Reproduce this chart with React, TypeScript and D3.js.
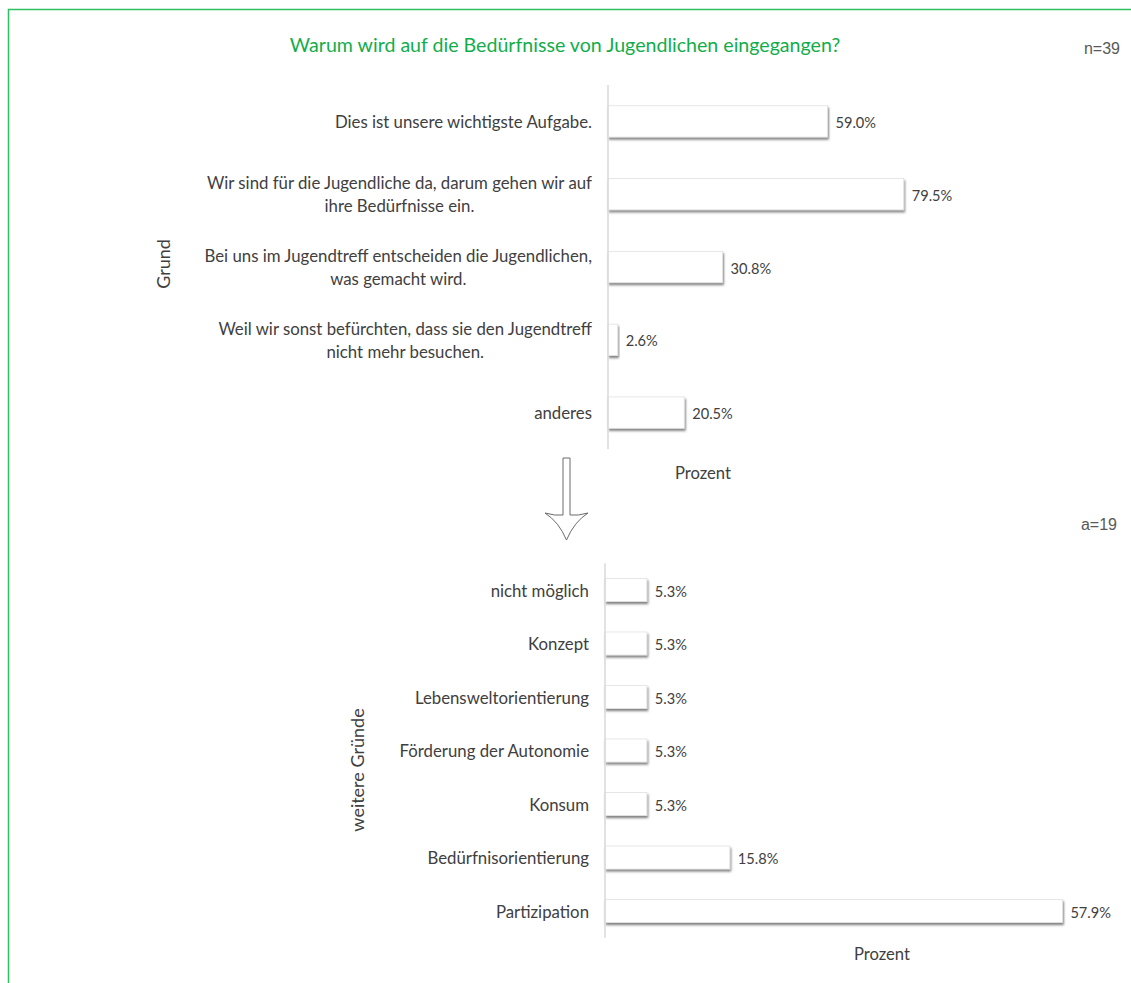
import React, { useEffect, useRef } from "react";
import * as d3 from "d3";

const TITLE = "Warum wird auf die Bedürfnisse von Jugendlichen eingegangen?";

const topCategories = [
  "Dies ist unsere wichtigste Aufgabe.",
  "Wir sind für die Jugendliche da, darum gehen wir auf\nihre Bedürfnisse ein.",
  "Bei uns im Jugendtreff entscheiden die Jugendlichen,\nwas gemacht wird.",
  "Weil wir sonst befürchten, dass sie den Jugendtreff\nnicht mehr besuchen.",
  "anderes",
];
const topValues = [59.0, 79.5, 30.8, 2.6, 20.5];

const bottomCategories = [
  "nicht möglich",
  "Konzept",
  "Lebensweltorientierung",
  "Förderung der Autonomie",
  "Konsum",
  "Bedürfnisorientierung",
  "Partizipation",
];
const bottomValues = [5.3, 5.3, 5.3, 5.3, 5.3, 15.8, 57.9];

const topNote = "n=39";
const bottomNote = "a=19";
const topAxisTitle = "Grund";
const bottomAxisTitle = "weitere Gründe";
const valueAxisTitle = "Prozent";

const W = 1131;
const H = 983;
const FONT = "Lato, 'Open Sans', sans-serif";
const TEXT = "#404040";

type Panel = {
  cats: string[];
  vals: number[];
  axisX: number;
  pxPer100: number;
  yTop: number;
  yBottom: number;
  padding: number;
  labelGap: number;
  groupTitle: string;
  groupTitleX: number;
  groupTitleY: number;
  prozentX: number;
  prozentY: number;
};

export default function App() {
  const ref = useRef<SVGSVGElement | null>(null);

  useEffect(() => {
    document.body.style.margin = "0";
    const svg = d3.select(ref.current);
    svg.selectAll("*").remove();

    const defs = svg.append("defs");
    const f = defs
      .append("filter")
      .attr("id", "barShadow")
      .attr("x", "-10%")
      .attr("y", "-40%")
      .attr("width", "130%")
      .attr("height", "200%");
    f.append("feDropShadow")
      .attr("dx", 1)
      .attr("dy", 2.2)
      .attr("stdDeviation", 1.1)
      .attr("flood-color", "#404040")
      .attr("flood-opacity", 0.65);

    svg.append("rect").attr("width", W).attr("height", H).attr("fill", "#fff");

    // frame
    svg
      .append("path")
      .attr("d", `M8.5,${H} L8.5,9.5 L${W},9.5`)
      .attr("fill", "none")
      .attr("stroke", "#2fc062")
      .attr("stroke-width", 1.5);

    svg
      .append("text")
      .attr("x", 565)
      .attr("y", 44)
      .attr("text-anchor", "middle")
      .attr("dominant-baseline", "central")
      .attr("font-family", FONT)
      .attr("font-size", 19.6)
      .attr("fill", "#12ad4b")
      .text(TITLE);

    svg
      .append("text")
      .attr("x", 1120)
      .attr("y", 48)
      .attr("text-anchor", "end")
      .attr("dominant-baseline", "central")
      .attr("font-family", "'Liberation Sans', Arial, sans-serif")
      .attr("font-size", 16)
      .attr("fill", "#595959")
      .text(topNote);

    svg
      .append("text")
      .attr("x", 1117)
      .attr("y", 524)
      .attr("text-anchor", "end")
      .attr("dominant-baseline", "central")
      .attr("font-family", "'Liberation Sans', Arial, sans-serif")
      .attr("font-size", 16)
      .attr("fill", "#595959")
      .text(bottomNote);

    const drawPanel = (p: Panel) => {
      const g = svg.append("g");
      const x = d3.scaleLinear().domain([0, 100]).range([p.axisX, p.axisX + p.pxPer100]);
      const y = d3
        .scaleBand<string>()
        .domain(p.cats)
        .range([p.yTop, p.yBottom])
        .paddingInner(p.padding)
        .paddingOuter(p.padding / 2);

      g.selectAll("rect.bar")
        .data(p.vals)
        .enter()
        .append("rect")
        .attr("class", "bar")
        .attr("x", x(0))
        .attr("y", (_, i) => y(p.cats[i]) as number)
        .attr("width", (d) => x(d) - x(0))
        .attr("height", y.bandwidth())
        .attr("fill", "#ffffff")
        .attr("stroke", "#e2e2e2")
        .attr("stroke-width", 0.8)
        .attr("filter", "url(#barShadow)");

      g.append("line")
        .attr("x1", p.axisX)
        .attr("x2", p.axisX)
        .attr("y1", p.yTop)
        .attr("y2", p.yBottom)
        .attr("stroke", "#d9d9d9")
        .attr("stroke-width", 1.5);

      g.selectAll("text.val")
        .data(p.vals)
        .enter()
        .append("text")
        .attr("class", "val")
        .attr("x", (d) => x(d) + 8)
        .attr("y", (_, i) => (y(p.cats[i]) as number) + y.bandwidth() / 2 + 1)
        .attr("dominant-baseline", "central")
        .attr("font-family", FONT)
        .attr("font-size", 14.6)
        .attr("fill", TEXT)
        .text((d) => `${d.toFixed(1)}%`);

      const right = p.axisX - p.labelGap;
      p.cats.forEach((c) => {
        const lines = c.split("\n");
        const cy = (y(c) as number) + y.bandwidth() / 2;
        const lh = 23;
        const texts = lines.map((ln, j) =>
          g
            .append("text")
            .attr("y", cy + (j - (lines.length - 1) / 2) * lh)
            .attr("text-anchor", "middle")
            .attr("dominant-baseline", "central")
            .attr("font-family", FONT)
            .attr("font-size", 16.8)
            .attr("fill", TEXT)
            .text(ln)
        );
        const maxW = d3.max(texts, (t) => (t.node() as SVGTextElement).getComputedTextLength()) || 0;
        texts.forEach((t) => t.attr("x", right - maxW / 2));
      });

      g.append("text")
        .attr("transform", `translate(${p.groupTitleX},${p.groupTitleY}) rotate(-90)`)
        .attr("text-anchor", "middle")
        .attr("dominant-baseline", "central")
        .attr("font-family", FONT)
        .attr("font-size", 18)
        .attr("fill", TEXT)
        .text(p.groupTitle);

      g.append("text")
        .attr("x", p.prozentX)
        .attr("y", p.prozentY)
        .attr("text-anchor", "middle")
        .attr("dominant-baseline", "central")
        .attr("font-family", FONT)
        .attr("font-size", 16.6)
        .attr("fill", TEXT)
        .text(valueAxisTitle);
    };

    drawPanel({
      cats: topCategories,
      vals: topValues,
      axisX: 608,
      pxPer100: 372,
      yTop: 85,
      yBottom: 449,
      padding: 0.57,
      labelGap: 16,
      groupTitle: topAxisTitle,
      groupTitleX: 163,
      groupTitleY: 264,
      prozentX: 703,
      prozentY: 473,
    });

    drawPanel({
      cats: bottomCategories,
      vals: bottomValues,
      axisX: 605,
      pxPer100: 790,
      yTop: 563.25,
      yBottom: 937.75,
      padding: 0.57,
      labelGap: 16,
      groupTitle: bottomAxisTitle,
      groupTitleX: 357,
      groupTitleY: 770,
      prozentX: 882,
      prozentY: 954,
    });

    // downward arrow between the two panels
    svg
      .append("path")
      .attr(
        "d",
        "M563,458 L570,458 L570,515 Q578,516 588,513 Q574,522 566.5,540 Q559,522 545,513 Q555,516 563,515 Z"
      )
      .attr("fill", "#fff")
      .attr("stroke", "#6a6a6a")
      .attr("stroke-width", 1);
  }, []);

  return <svg ref={ref} width={W} height={H} style={{ display: "block" }} />;
}
